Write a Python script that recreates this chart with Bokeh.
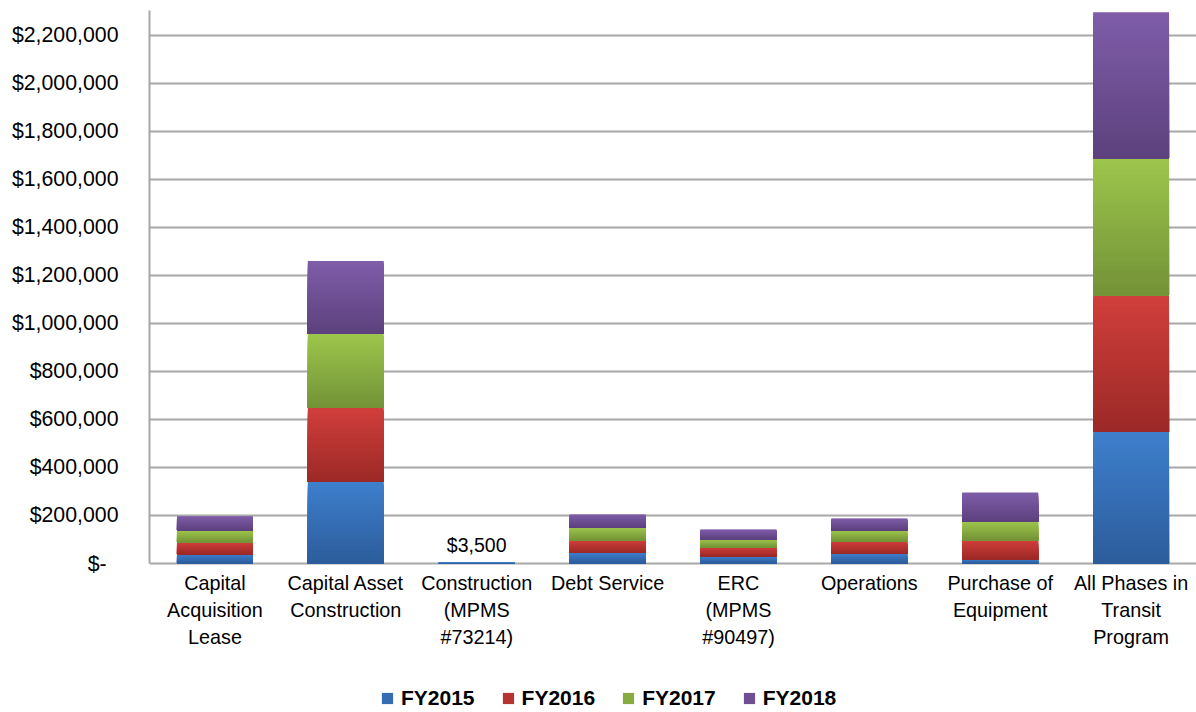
from bokeh.plotting import figure
from bokeh.models import (ColumnDataSource, FixedTicker, NumeralTickFormatter,
                          Legend, LegendItem, Range1d, FactorRange)
from bokeh.core.properties import value
from bokeh.embed import file_html
from bokeh.resources import INLINE

# ---------------- data ----------------
categories = ["Capital\nAcquisition\nLease", "Capital Asset\nConstruction",
              "Construction\n(MPMS\n#73214)", "Debt Service", "ERC\n(MPMS\n#90497)",
              "Operations", "Purchase of\nEquipment", "All Phases in\nTransit\nProgram"]
years = ["FY2015", "FY2016", "FY2017", "FY2018"]
fy2015 = [38750, 340000, 3500, 45800, 29200, 41700, 16700, 547500]
fy2016 = [48750, 308300, 0, 50000, 37500, 50000, 79200, 570400]
fy2017 = [50000, 308300, 0, 54200, 33300, 45800, 79200, 570000]
fy2018 = [59600, 304200, 0, 54200, 41700, 50000, 120800, 608700]
y_ticks = [0, 200000, 400000, 600000, 800000, 1000000, 1200000,
           1400000, 1600000, 1800000, 2000000, 2200000]
data_label_categories = ["Construction\n(MPMS\n#73214)"]
data_label_texts = ["$3,500"]

# ---------------- style / layout ----------------
gradients = [("#3E7FCD", "#2C5C9B"),   # (top, bottom)
             ("#D13F3B", "#9B2927"),
             ("#9DC64C", "#739237"),
             ("#7F5DA9", "#5C417D")]
FONT = "Liberation Sans"
GRID = "#A8A8A8"
N_SLICES = 40
W, H = 1196, 712
LEFT, TOP = 149, 10
ZERO_PX = 563                    # pixel row of the value 0
Y_END = 2304000
frame_h = H - TOP
y_start = -Y_END * (frame_h - (ZERO_PX - TOP)) / (ZERO_PX - TOP)


def hex2rgb(h):
    h = h.lstrip("#")
    return [int(h[i:i + 2], 16) for i in (0, 2, 4)]


def lerp(c1, c2, t):
    a, b = hex2rgb(c1), hex2rgb(c2)
    return "#%02x%02x%02x" % tuple(int(round(a[i] + (b[i] - a[i]) * t)) for i in range(3))


p = figure(width=W, height=H, x_range=FactorRange(*categories),
           y_range=Range1d(y_start, Y_END), output_backend="svg",
           toolbar_location=None, x_axis_location=None,
           min_border_left=LEFT, min_border_top=TOP,
           min_border_right=0, min_border_bottom=0)
p.outline_line_color = None
p.background_fill_color = "white"
p.border_fill_color = "white"

# stacked bars with a vertical gradient (light at top, dark at bottom)
stack = [fy2015, fy2016, fy2017, fy2018]
base = [0.0] * len(categories)
renderers = []
for vals, (ctop, cbot) in zip(stack, gradients):
    xs, bots, tops, cols = [], [], [], []
    for k in range(N_SLICES):
        frac = (N_SLICES - k) / N_SLICES
        for ci, cat in enumerate(categories):
            xs.append(cat)
            bots.append(base[ci])
            tops.append(base[ci] + vals[ci] * frac)
            cols.append(lerp(cbot, ctop, frac - 0.5 / N_SLICES))
    src = ColumnDataSource(dict(x=xs, bottom=bots, top=tops, color=cols))
    r = p.vbar(x="x", bottom="bottom", top="top", width=0.58, source=src,
               fill_color="color", line_color=None)
    renderers.append(r)
    for ci in range(len(categories)):
        base[ci] += vals[ci]

# data label
lab_y = [base[categories.index(c)] for c in data_label_categories]
lab_src = ColumnDataSource(dict(x=data_label_categories, y=lab_y, t=data_label_texts))
p.text(x="x", y="y", text="t", source=lab_src, text_align="center",
       text_baseline="bottom", y_offset=-7, text_font=value(FONT),
       text_font_size="19.5px", text_color="#000000")

# category labels below the zero line
cat_src = ColumnDataSource(dict(x=categories, y=[0] * len(categories), t=categories))
p.text(x="x", y="y", text="t", source=cat_src, text_align="center",
       text_baseline="top", y_offset=8, text_font=value(FONT),
       text_font_size="19.8px", text_line_height=1.23, text_color="#000000")

# grid
p.xgrid.visible = False
p.ygrid.ticker = FixedTicker(ticks=y_ticks)
p.ygrid.grid_line_color = GRID
p.ygrid.grid_line_width = 2

# y axis
ya = p.yaxis[0]
ya.bounds = (0, Y_END)
ya.ticker = FixedTicker(ticks=y_ticks)
ya.formatter = NumeralTickFormatter(format="$0,0")
ya.major_label_overrides = {0: "$-\u00a0\u00a0"}
ya.axis_line_color = GRID
ya.axis_line_width = 2
ya.major_tick_line_color = None
ya.minor_tick_line_color = None
ya.major_tick_out = 0
ya.major_tick_in = 0
ya.major_label_standoff = 31
ya.major_label_text_font = FONT
ya.major_label_text_font_size = "21.3px"
ya.major_label_text_color = "#000000"

# legend
items = [LegendItem(label=y, renderers=[r], index=len(categories) * (N_SLICES // 2))
         for y, r in zip(years, renderers)]
legend = Legend(items=items, orientation="horizontal", location=(231, 2),
                label_text_font=FONT, label_text_font_size="21px",
                label_text_font_style="bold", label_text_color="#000000",
                glyph_width=14, glyph_height=14, label_standoff=7, spacing=26,
                label_height=20, border_line_color=None, background_fill_alpha=0,
                margin=0, padding=0)
p.add_layout(legend, "center")

open("out.html", "w").write(file_html(p, INLINE))
